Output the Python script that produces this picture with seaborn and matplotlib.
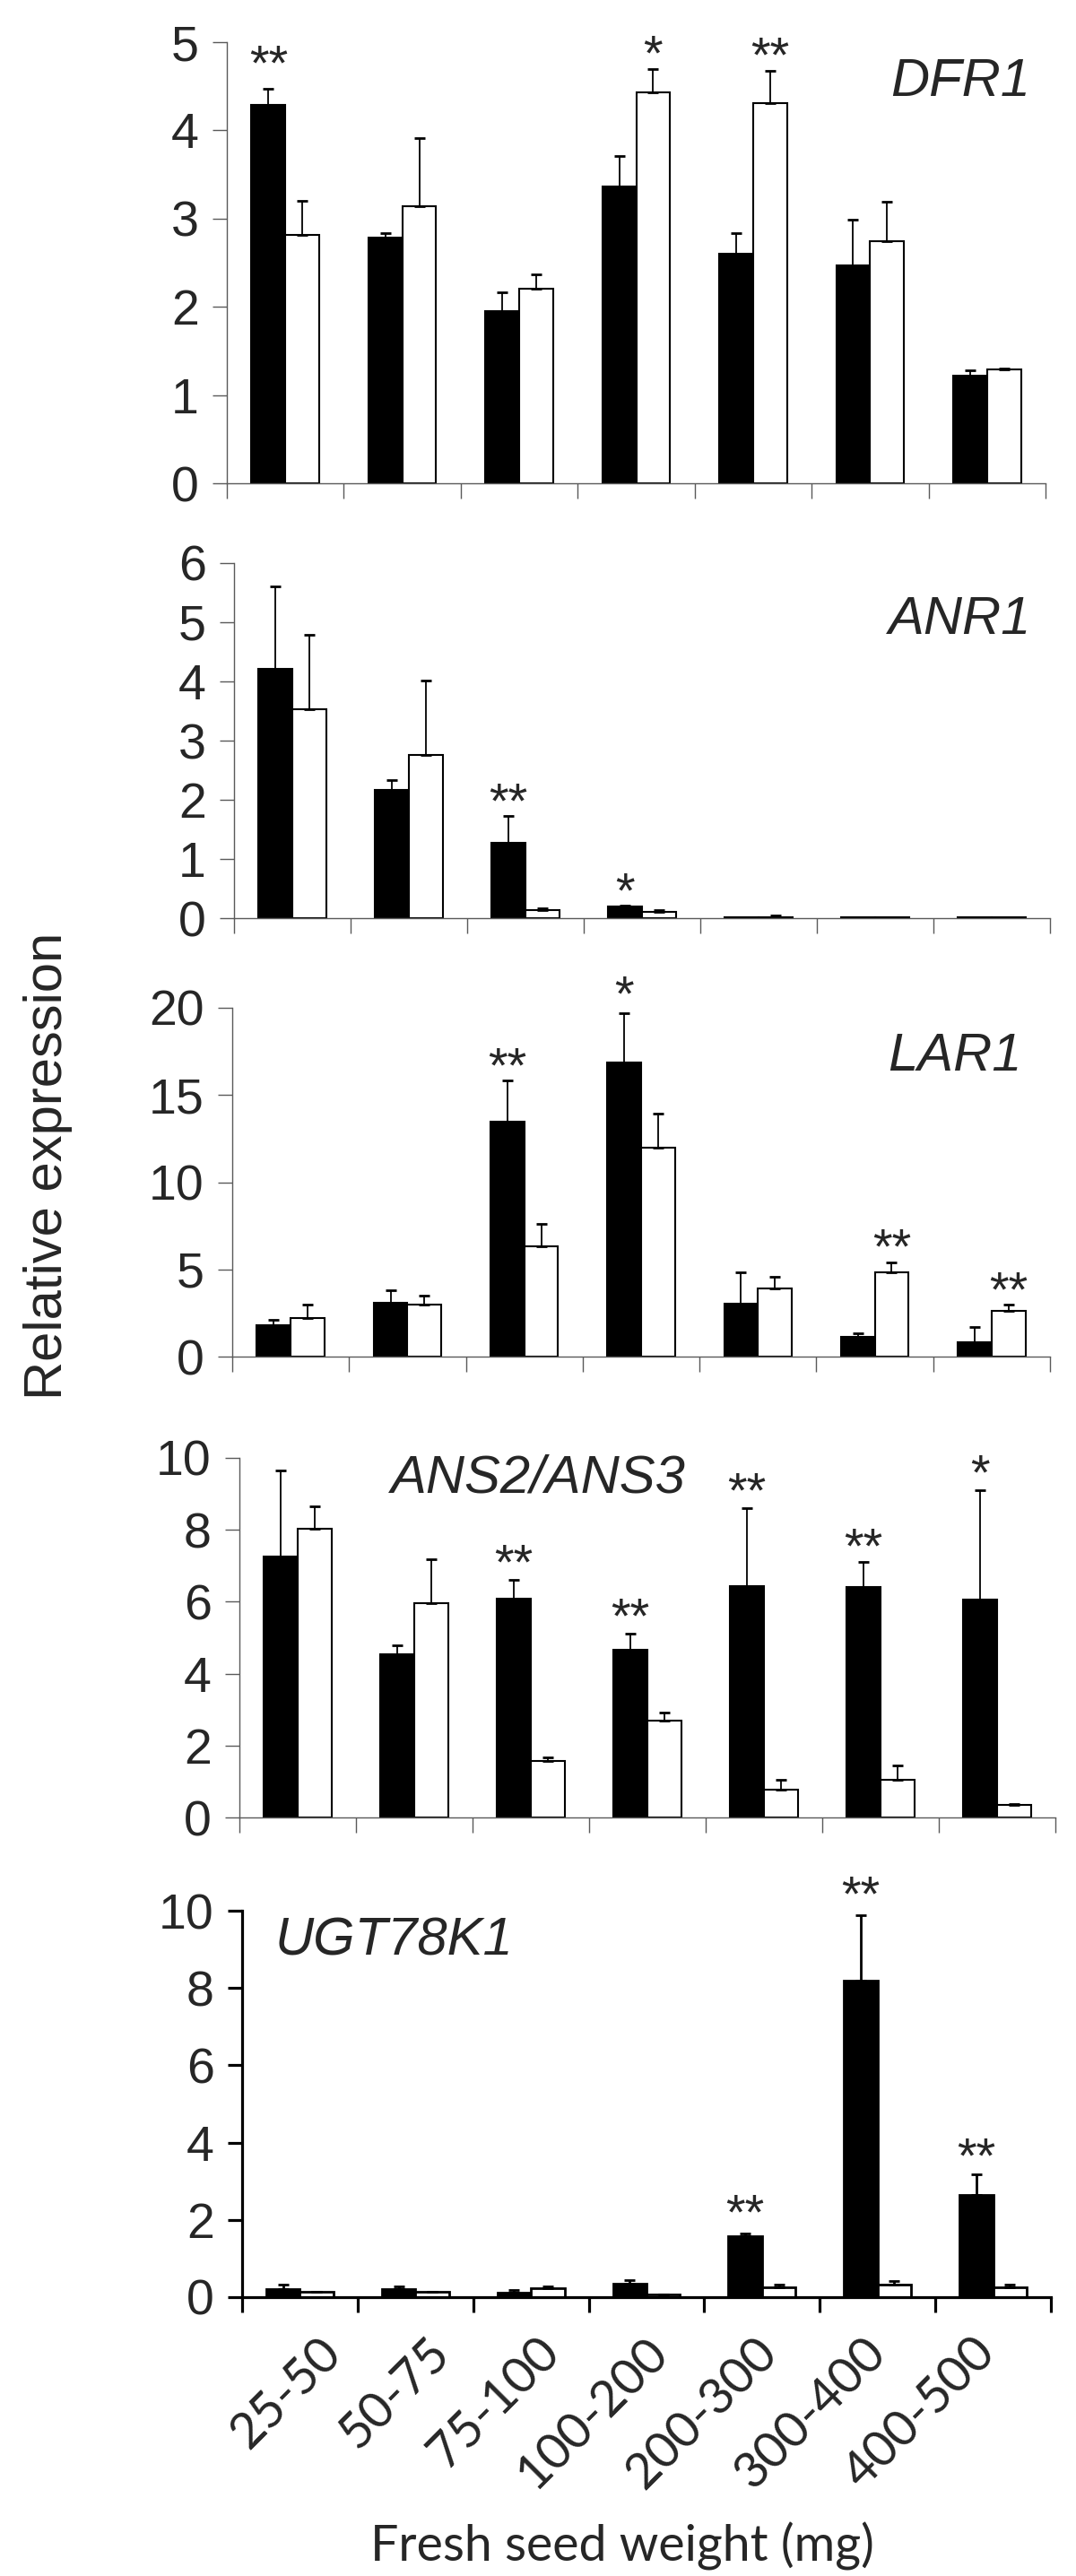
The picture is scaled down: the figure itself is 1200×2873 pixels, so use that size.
import numpy as np
import pandas as pd
import matplotlib
matplotlib.use("Agg")
import matplotlib.pyplot as plt
import matplotlib.transforms as mtransforms
import seaborn as sns

# ---------------- data ----------------
categories = ["25-50", "50-75", "75-100", "100-200", "200-300", "300-400", "400-500"]
hue_levels = ["black", "white"]

dfr1_black = [4.29, 2.78, 1.95, 3.36, 2.60, 2.47, 1.22]
dfr1_black_err = [0.18, 0.06, 0.21, 0.35, 0.24, 0.52, 0.06]
dfr1_white = [2.82, 3.14, 2.21, 4.43, 4.31, 2.74, 1.29]
dfr1_white_err = [0.38, 0.77, 0.16, 0.27, 0.36, 0.45, 0.01]
dfr1_star_group = [0, 3, 4]
dfr1_star_series = [0, 1, 1]
dfr1_star_text = ["**", "*", "**"]
dfr1_star_y = [4.90, 5.02, 4.99]

anr1_black = [4.21, 2.17, 1.28, 0.19, 0.012, 0.012, 0.012]
anr1_black_err = [1.40, 0.16, 0.44, 0.02, 0.0, 0.0, 0.0]
anr1_white = [3.53, 2.76, 0.13, 0.10, 0.012, 0.012, 0.012]
anr1_white_err = [1.26, 1.26, 0.03, 0.03, 0.03, 0.0, 0.0]
anr1_star_group = [2, 3]
anr1_star_series = [0, 0]
anr1_star_text = ["**", "*"]
anr1_star_y = [2.19, 0.67]

lar1_black = [1.81, 3.11, 13.47, 16.87, 3.01, 1.11, 0.84]
lar1_black_err = [0.31, 0.70, 2.38, 2.84, 1.81, 0.21, 0.84]
lar1_white = [2.22, 2.99, 6.31, 12.0, 3.91, 4.82, 2.62]
lar1_white_err = [0.77, 0.51, 1.30, 1.93, 0.67, 0.56, 0.37]
lar1_star_group = [2, 3, 5, 6]
lar1_star_series = [0, 0, 1, 1]
lar1_star_text = ["**", "*", "**", "**"]
lar1_star_y = [17.4, 21.5, 7.0, 4.53]

ans_black = [7.26, 4.54, 6.09, 4.67, 6.44, 6.40, 6.05]
ans_black_err = [2.39, 0.24, 0.53, 0.43, 2.16, 0.70, 3.04]
ans_white = [8.04, 5.95, 1.58, 2.69, 0.78, 1.05, 0.35]
ans_white_err = [0.61, 1.23, 0.08, 0.23, 0.26, 0.40, 0.03]
ans_star_group = [2, 3, 4, 5, 6]
ans_star_series = [0, 0, 0, 0, 0]
ans_star_text = ["**", "**", "**", "**", "*"]
ans_star_y = [7.45, 5.95, 9.43, 7.89, 9.93]

ugt_black = [0.21, 0.21, 0.12, 0.35, 1.57, 8.18, 2.65]
ugt_black_err = [0.12, 0.08, 0.06, 0.10, 0.07, 1.70, 0.53]
ugt_white = [0.13, 0.13, 0.24, 0.06, 0.25, 0.32, 0.25]
ugt_white_err = [0.02, 0.02, 0.05, 0.0, 0.08, 0.09, 0.08]
ugt_star_group = [4, 5, 6]
ugt_star_series = [0, 0, 0]
ugt_star_text = ["**", "**", "**"]
ugt_star_y = [2.52, 10.75, 3.98]

gene_names = ["DFR1", "ANR1", "LAR1", "ANS2/ANS3", "UGT78K1"]
y_max = [5, 6, 20, 10, 10]
y_step = [1, 1, 5, 2, 2]

x_label = "Fresh seed weight (mg)"
y_label = "Relative expression"

# ---------------- styling ----------------
sns.set_style("white")
ARIAL = ["Liberation Sans", "DejaVu Sans"]
CALIBRI = ["Lato", "DejaVu Sans"]
plt.rcParams["font.family"] = ARIAL

W, H = 1200, 2873
fig = plt.figure(figsize=(W / 100, H / 100), dpi=100)

def px_rect(left, right, top, bottom):
    return [left / W, 1 - bottom / H, (right - left) / W, (bottom - top) / H]

rects = [
    px_rect(253, 1166, 47, 539),
    px_rect(261, 1171, 628, 1024),
    px_rect(259, 1171, 1124, 1513),
    px_rect(267, 1177, 1626, 2027),
    px_rect(270, 1172, 2131, 2562),
]

panels = [
    (dfr1_black, dfr1_black_err, dfr1_white, dfr1_white_err,
     dfr1_star_group, dfr1_star_series, dfr1_star_text, dfr1_star_y),
    (anr1_black, anr1_black_err, anr1_white, anr1_white_err,
     anr1_star_group, anr1_star_series, anr1_star_text, anr1_star_y),
    (lar1_black, lar1_black_err, lar1_white, lar1_white_err,
     lar1_star_group, lar1_star_series, lar1_star_text, lar1_star_y),
    (ans_black, ans_black_err, ans_white, ans_white_err,
     ans_star_group, ans_star_series, ans_star_text, ans_star_y),
    (ugt_black, ugt_black_err, ugt_white, ugt_white_err,
     ugt_star_group, ugt_star_series, ugt_star_text, ugt_star_y),
]

# gene label placement (axes fraction), alignment
gene_pos = [
    (0.982, 0.966, "right"),
    (0.977, 0.910, "right"),
    (0.966, 0.930, "right"),
    (0.366, 1.012, "center"),
    (0.040, 0.986, "left"),
]

for k, (rect, pdata) in enumerate(zip(rects, panels)):
    b, be, w, we, sg, ss, st, sy = pdata
    ax = fig.add_axes(rect)
    bottom_panel = (k == 4)
    axis_col = "black" if bottom_panel else "#5a5a5a"
    axis_lw = 2.3 if bottom_panel else 1.0
    bar_lw = 2.0 if bottom_panel else 1.5

    df = pd.DataFrame({
        "cat": categories * 2,
        "series": ["black"] * 7 + ["white"] * 7,
        "value": list(b) + list(w),
    })
    sns.barplot(data=df, x="cat", y="value", hue="series", order=categories,
                hue_order=hue_levels, palette={"black": "black", "white": "white"},
                edgecolor="black", linewidth=bar_lw, width=0.58, errorbar=None,
                legend=False, ax=ax, zorder=2)

    centers = []
    for cont, vals, errs in zip(ax.containers, [b, w], [be, we]):
        xs = [p.get_x() + p.get_width() / 2 for p in cont.patches]
        centers.append(xs)
        ax.errorbar(xs, vals, yerr=[np.zeros(len(errs)), errs], fmt="none",
                    ecolor="black", elinewidth=1.3 if not bottom_panel else 2.0,
                    capsize=4.3, capthick=2.0, zorder=3)

    for g, s, t, yv in zip(sg, ss, st, sy):
        ax.annotate(t, xy=(centers[s][g], yv), xytext=(0, -23),
                    textcoords="offset points", ha="center", va="baseline",
                    fontsize=40, annotation_clip=False, family=ARIAL)

    ax.set_xlim(-0.5, 6.5)
    ax.set_ylim(0, y_max[k])
    ax.set_yticks(np.arange(0, y_max[k] + 0.001, y_step[k]))
    ax.set_yticklabels([str(int(v)) for v in np.arange(0, y_max[k] + 0.001, y_step[k])],
                       fontsize=40, family=ARIAL)
    ax.set_xticks(np.arange(-0.5, 7.0, 1.0))
    ax.set_xticklabels([])
    ax.set_xlabel("")
    ax.set_ylabel("")

    for side in ["top", "right"]:
        ax.spines[side].set_visible(False)
    for side in ["left", "bottom"]:
        ax.spines[side].set_color(axis_col)
        ax.spines[side].set_linewidth(axis_lw)
        ax.spines[side].set_zorder(4)
    ax.tick_params(axis="y", direction="out", length=11.5, width=axis_lw,
                   color=axis_col, pad=11, left=True)
    ax.tick_params(axis="x", direction="out", length=12.5, width=axis_lw,
                   color=axis_col, bottom=True)

    gx, gy, gha = gene_pos[k]
    ax.text(gx, gy, gene_names[k], transform=ax.transAxes, ha=gha, va="top",
            fontsize=43, style="italic", family=ARIAL)

    if bottom_panel:
        for i, cat in enumerate(categories):
            dx = (38 - 7.3 * i) / 100.0
            tr = ax.get_xaxis_transform() + mtransforms.ScaledTranslation(
                dx, -54 / 100.0, fig.dpi_scale_trans)
            ax.text(i, 0, cat, transform=tr, rotation=45, rotation_mode="anchor",
                    ha="right", va="center", fontsize=40, family=CALIBRI)

fig.text(694 / W, 1 - 2840 / H, x_label, ha="center", va="center",
         fontsize=40, family=CALIBRI)
fig.text(54 / W, 1 - 1300 / H, y_label, rotation=90, ha="center", va="center",
         fontsize=43, family=ARIAL)

fig.savefig("out.png", dpi=100, facecolor="white")
